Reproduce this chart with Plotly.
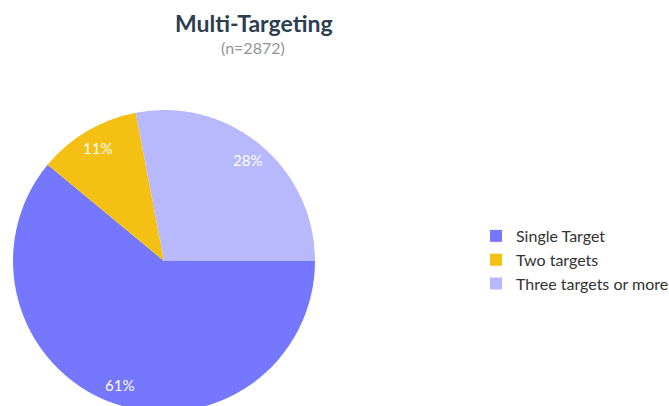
import math
import plotly.graph_objects as go

categories = ["Single Target", "Two targets", "Three targets or more"]
values = [61, 11, 28]
colors = ["#7577FE", "#F3C013", "#B8B9FD"]
title_text = "Multi-Targeting"
subtitle_text = "(n=2872)"

W, H = 669, 420
# pie geometry (pixels)
px_left, px_right, px_top, px_bottom = 13, 315, 110, 412
cx = (px_left + px_right) / 2
cy = (px_top + px_bottom) / 2
R = (px_right - px_left) / 2
rotation = 90
label_frac = 0.87

fig = go.Figure(go.Pie(
    labels=categories,
    values=values,
    sort=False,
    direction="clockwise",
    rotation=rotation,
    marker=dict(colors=colors, line=dict(width=0)),
    textinfo="none",
    domain=dict(x=[px_left / W, px_right / W], y=[1 - px_bottom / H, 1 - px_top / H]),
    hoverinfo="label+percent",
))

# percentage labels placed along each slice's mid-angle
total = sum(values)
annotations = []
start = rotation
for v in values:
    sweep = 360 * v / total
    mid = math.radians(start + sweep / 2)
    lx = cx + label_frac * R * math.sin(mid)
    ly = cy - label_frac * R * math.cos(mid)
    annotations.append(dict(
        text=f"{round(100 * v / total)}%", x=lx / W, y=1 - ly / H,
        xref="paper", yref="paper", xanchor="center", yanchor="middle",
        showarrow=False, font=dict(family="Lato", size=15, color="white"),
    ))
    start += sweep

annotations += [
    dict(text="<b>" + title_text + "</b>", x=254 / W, y=1 - 23 / H,
         xref="paper", yref="paper", xanchor="center", yanchor="middle",
         showarrow=False, font=dict(family="Lato", size=23, color="#2C3E50")),
    dict(text=subtitle_text, x=253 / W, y=1 - 47 / H,
         xref="paper", yref="paper", xanchor="center", yanchor="middle",
         showarrow=False, font=dict(family="Lato", size=16, color="#959595")),
]

fig.update_layout(
    width=W, height=H,
    margin=dict(l=0, r=0, t=0, b=0, autoexpand=False),
    paper_bgcolor="white",
    plot_bgcolor="white",
    font=dict(family="Lato", color="#333333"),
    showlegend=True,
    legend=dict(
        x=476 / W, xanchor="left",
        y=1 - 219 / H, yanchor="top",
        font=dict(family="Lato", size=16, color="#333333"),
        bgcolor="rgba(0,0,0,0)",
        tracegroupgap=0,
    ),
    annotations=annotations,
)

fig.write_html(
    "out.html",
    config={"displayModeBar": False},
    post_script="document.body.style.margin='0';document.body.style.overflow='hidden';document.documentElement.style.overflow='hidden';",
)
